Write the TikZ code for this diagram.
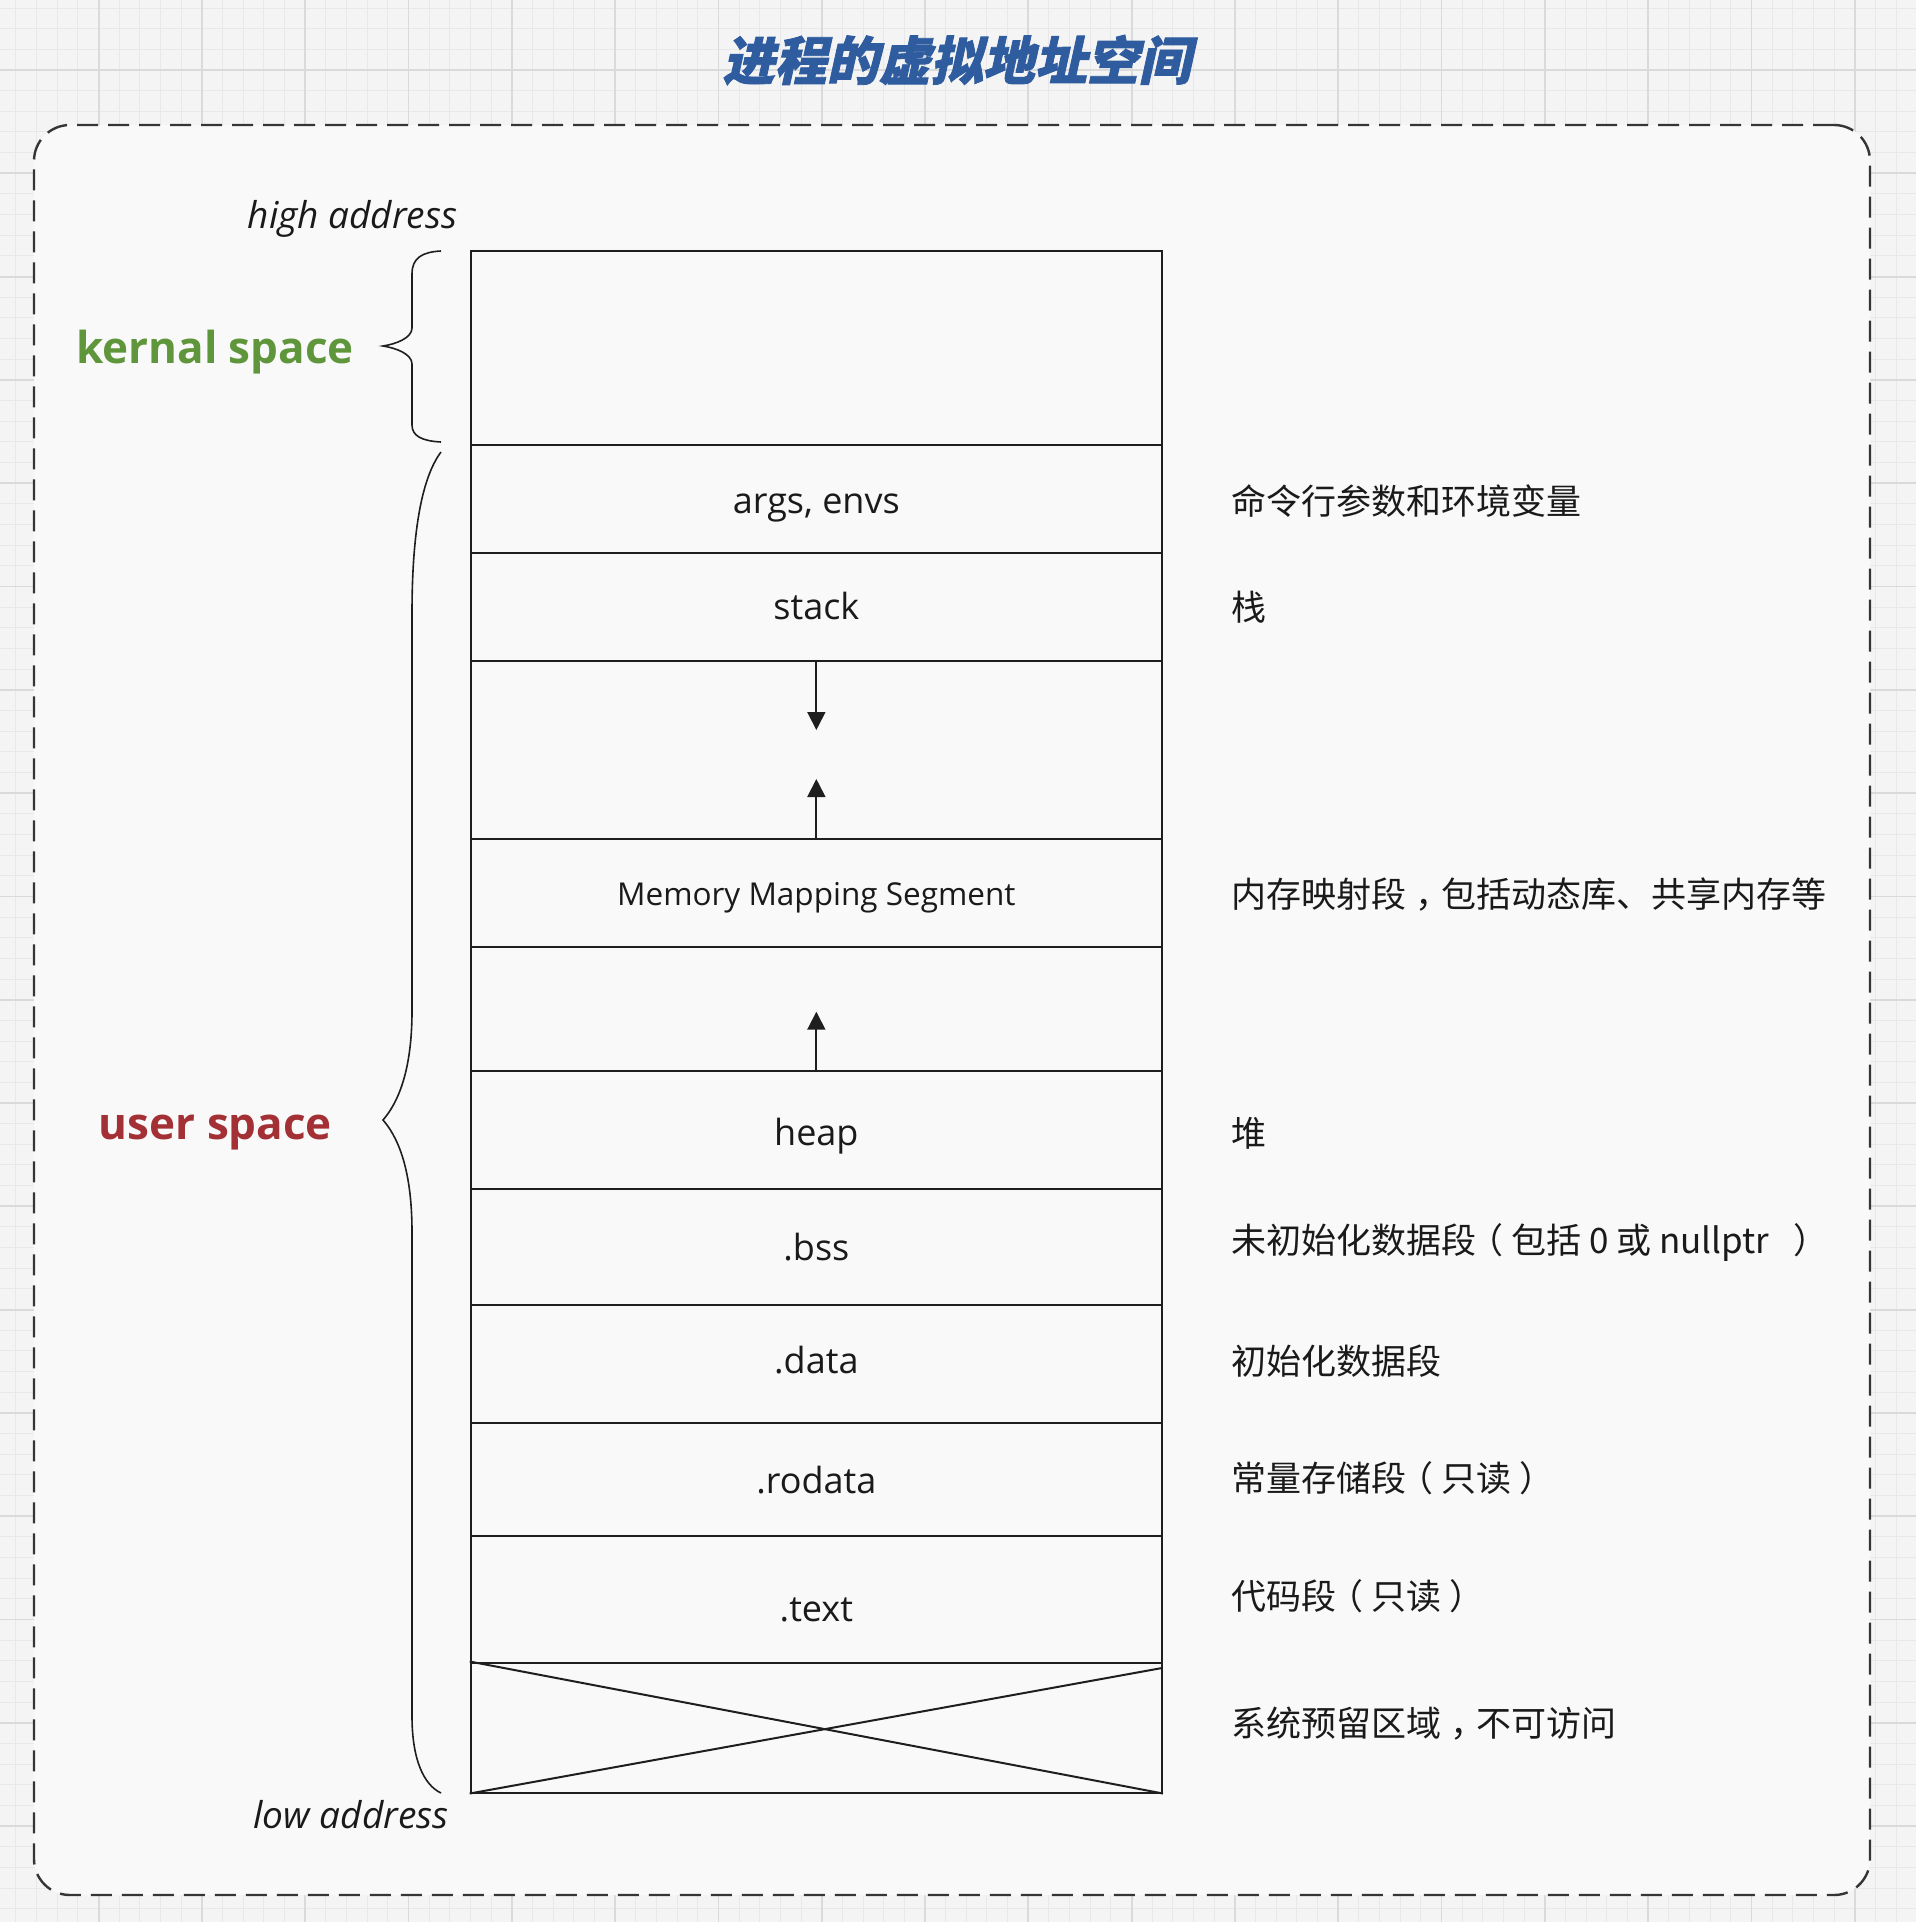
\documentclass[tikz,border=0pt]{standalone}
\usepackage{fontspec}
\setmainfont{Open Sans}
\newfontfamily\cjk{Noto Sans CJK SC}
\newfontfamily\titlefont[FakeSlant=0.22, BoldFeatures={FakeBold=1.6}]{Noto Sans CJK SC}
\usetikzlibrary{arrows.meta}
\newcommand\lpar{\hspace{-8pt}（\hspace{8pt}}
\newcommand\rpar{\hspace{8pt}）\hspace{-8pt}}
\newcommand\ccomma{\hspace{9pt}，\hspace{-9pt}}
\definecolor{bgout}{RGB}{244,244,244}
\definecolor{gridminor}{RGB}{232,232,232}
\definecolor{gridmajor}{RGB}{218,218,218}
\definecolor{bgin}{RGB}{249,249,249}
\definecolor{titleblue}{RGB}{46,92,158}
\definecolor{kgreen}{RGB}{95,150,60}
\definecolor{ured}{RGB}{162,48,53}
\definecolor{ink}{RGB}{26,26,26}
\definecolor{lineink}{RGB}{30,30,30}
\tikzset{
  minorgrid/.style={gridminor, line width=1pt},
  majorgrid/.style={gridmajor, line width=1.8pt},
  frame/.style={draw=lineink!90, fill=bgin, line width=2.4pt, dash pattern=on 21pt off 10pt, rounded corners=36pt, inner sep=0pt},
  rowbox/.style={draw=lineink, line width=2pt, minimum width=691.3pt, inner sep=0pt, fill=none},
  boxtext/.style={text=ink, inner sep=0pt, font=\fontsize{36}{40}\selectfont},
  smalltext/.style={text=ink, inner sep=0pt, font=\fontsize{31.5}{36}\selectfont},
  desc/.style={text=ink, inner sep=0pt, anchor=west, font=\cjk\fontsize{35}{40}\selectfont},
  addr/.style={text=ink, inner sep=0pt, anchor=base, font=\itshape\fontsize{37}{42}\selectfont},
  space/.style={inner sep=0pt, anchor=base, font=\bfseries\fontsize{44}{50}\selectfont},
  arr/.style={draw=lineink, line width=1.8pt, -{Triangle[length=18pt,width=18pt]}},
  plain/.style={draw=lineink, line width=2pt},
  bracestyle/.style={draw=lineink, line width=1.6pt},
}
\begin{document}
\begin{tikzpicture}[x=1pt,y=-1pt]
\useasboundingbox (0,0) rectangle (1916,1922);
\clip (0,0) rectangle (1916,1922);
% background grid
\fill[bgout] (0,0) rectangle (1916,1922);
\foreach \i in {0,...,94} {
  \pgfmathsetmacro\xx{-4.7+\i*20.66}
  \draw[minorgrid] (\xx,0) -- (\xx,1922);
}
\foreach \i in {0,...,95} {
  \pgfmathsetmacro\yy{-33.3+\i*20.66}
  \draw[minorgrid] (0,\yy) -- (1916,\yy);
}
\foreach \i in {0,...,19} {
  \pgfmathsetmacro\xx{-4.7+\i*103.3}
  \draw[majorgrid] (\xx,0) -- (\xx,1922);
}
\foreach \i in {0,...,19} {
  \pgfmathsetmacro\yy{-33.3+\i*103.3}
  \draw[majorgrid] (0,\yy) -- (1916,\yy);
}
% title
\node[inner sep=0pt, text=titleblue, font=\titlefont\bfseries\fontsize{52}{58}\selectfont] (title) at (956.7,60) {进程的虚拟地址空间};
% dashed frame
\node[frame, minimum width=1836pt, minimum height=1770pt] (frame) at (952,1010) {};
% rows
\node[rowbox, minimum height=194pt]   (kernel)   at (816.35,348) {};
\node[rowbox, minimum height=108pt]   (args)     at (816.35,499) {};
\node[rowbox, minimum height=108pt]   (stack)    at (816.35,607) {};
\node[rowbox, minimum height=178pt]   (gapa)     at (816.35,750) {};
\node[rowbox, minimum height=107.5pt] (mms)      at (816.35,892.75) {};
\node[rowbox, minimum height=124pt]   (gapb)     at (816.35,1008.5) {};
\node[rowbox, minimum height=118.5pt] (heap)     at (816.35,1129.75) {};
\node[rowbox, minimum height=115.5pt] (bss)      at (816.35,1246.75) {};
\node[rowbox, minimum height=118pt]   (data)     at (816.35,1363.5) {};
\node[rowbox, minimum height=113.5pt] (rodata)   at (816.35,1479.25) {};
\node[rowbox, minimum height=126.5pt] (textseg)  at (816.35,1599.25) {};
\node[rowbox, minimum height=130pt]   (reserved) at (816.35,1727.5) {};
% box texts
\node[boxtext, anchor=base] (targs)   at (816.35,513)    {args, envs};
\node[boxtext, anchor=base] (tstack)  at (816.35,619)    {stack};
\node[smalltext, anchor=base] (tmms)  at (816.35,905)    {Memory Mapping Segment};
\node[boxtext, anchor=base] (theap)   at (816.35,1145)   {heap};
\node[boxtext, anchor=base] (tbss)    at (816.35,1260)   {.bss};
\node[boxtext, anchor=base] (tdata)   at (816.35,1373.3) {.data};
\node[boxtext, anchor=base] (trodata) at (816.35,1493.3) {.rodata};
\node[boxtext, anchor=base] (ttext)   at (816.35,1621.7) {.text};
% arrows
\coordinate (ta) at (816.35,730);
\coordinate (tb) at (816.35,779);
\coordinate (tc) at (816.35,1011.7);
\draw[arr] (stack.south) -- (ta);
\draw[arr] (mms.north) -- (tb);
\draw[arr] (heap.north) -- (tc);
% cross in reserved area
\coordinate (rx) at (1162,1668);
\draw[plain] (reserved.north west) -- (reserved.south east);
\draw[plain] (reserved.south west) -- (rx);
% right descriptions
\node[desc] (d1) at (1231,501)    {命令行参数和环境变量};
\node[desc] (d2) at (1231,607)    {栈};
\node[desc] (d3) at (1231,895)    {内存映射段\ccomma 包括动态库、共享内存等};
\node[desc] (d4) at (1231,1133)   {堆};
\node[desc] (d5) at (1231,1243)   {未初始化数据段\lpar 包括 0 或 nullptr \ \rpar};
\node[desc] (d6) at (1231,1361)   {初始化数据段};
\node[desc] (d7) at (1231,1478)   {常量存储段\lpar 只读\rpar};
\node[desc] (d8) at (1231,1596)   {代码段\lpar 只读\rpar};
\node[desc] (d9) at (1231,1723.5) {系统预留区域\ccomma 不可访问};
% left labels
\node[addr] (high) at (352.5,228) {high address};
\node[addr] (low)  at (351,1828)  {low address};
\node[space, text=kgreen] (kspace) at (215,363)  {kernal space};
\node[space, text=ured]   (uspace) at (215.4,1139) {user space};
% braces
\draw[bracestyle] (441,251) .. controls (422,252) and (412,258) .. (412,274)
  -- (412,328) .. controls (412,338) and (396,344) .. (383,346)
  .. controls (396,348) and (412,354) .. (412,364)
  -- (412,425) .. controls (412,436) and (422,441) .. (441,442);
\draw[bracestyle] (441,452) .. controls (420,480) and (412,540) .. (412,613)
  -- (412,1011) .. controls (412,1075) and (396,1105) .. (383,1120)
  .. controls (396,1135) and (412,1165) .. (412,1232)
  -- (412,1716) .. controls (412,1760) and (424,1785) .. (441,1793);
\end{tikzpicture}
\end{document}
